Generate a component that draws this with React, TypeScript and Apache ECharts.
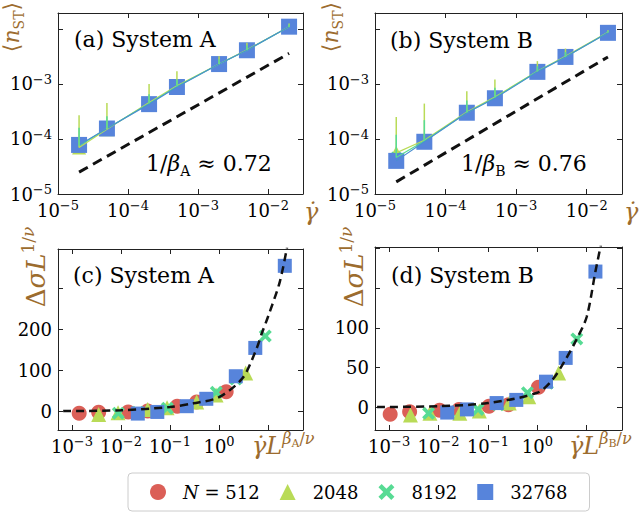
import React, { useEffect, useRef } from 'react';
import * as echarts from 'echarts';

// ---------- data ----------
const rateX = [2e-5, 5e-5, 2e-4, 5e-4, 2e-3, 5e-3, 2e-2];

// panel (a) System A
const aN2048 = [7.0e-5, 1.5e-4, 4.6e-4, 9.3e-4, 2.3e-3, 4.2e-3, 1.1e-2];
const aN8192 = [7.5e-5, 1.55e-4, 4.4e-4, 9.0e-4, 2.3e-3, 4.1e-3, 1.1e-2];
const aN32768 = [7.8e-5, 1.55e-4, 4.3e-4, 8.8e-4, 2.3e-3, 4.1e-3, 1.1e-2];
const aErrTop2048 = [2.7e-4, 4.5e-4, 1.0e-3, 1.7e-3, 3.2e-3, 5.6e-3, 1.25e-2];
const aErrTop8192 = [1.6e-4, 2.6e-4, 6.5e-4, 1.2e-3, 2.8e-3, 5.0e-3, 1.2e-2];
const aFitX = [2e-5, 2e-2];
const aFitY = [2.5e-5, 3.6e-3];

// panel (b) System B
const bN2048 = [5.6e-5, 9.5e-5, 3.1e-4, 5.8e-4, 1.7e-3, 3.2e-3, 8.7e-3];
const bN8192 = [4.6e-5, 9.2e-5, 3.0e-4, 5.6e-4, 1.7e-3, 3.1e-3, 8.6e-3];
const bN32768 = [4.0e-5, 8.9e-5, 3.0e-4, 5.5e-4, 1.66e-3, 3.1e-3, 8.5e-3];
const bErrTop2048 = [2.5e-4, 4.4e-4, 7.4e-4, 1.2e-3, 2.6e-3, 4.4e-3, 9.5e-3];
const bErrTop8192 = [1.2e-4, 2.2e-4, 5.0e-4, 8.5e-4, 2.1e-3, 3.8e-3, 9.2e-3];
const bFitX = [2e-5, 2e-2];
const bFitY = [1.66e-5, 3.1e-3];

// panel (c) System A collapse
const cX512 = [1.4e-3, 3.5e-3, 1.4e-2, 3.5e-2, 0.14, 0.35, 1.4];
const cY512 = [-5, -3, -2, 0, 12, 22, 47];
const cX2048 = [3.5e-3, 8.7e-3, 3.5e-2, 8.7e-2, 0.35, 0.87, 3.5];
const cY2048 = [-8, -4, 4, 8, 22, 39, 93];
const cX8192 = [8.8e-3, 2.2e-2, 8.8e-2, 0.22, 0.88, 2.2, 8.8];
const cY8192 = [-5, -3, 7, 12, 46, 78, 183];
const cX32768 = [2.2e-2, 5.5e-2, 0.22, 0.55, 2.2, 5.5, 22];
const cY32768 = [-6, -2, 12, 30, 85, 154, 354];
const cFitX = [6.6e-4, 0.01, 0.1, 0.3, 1, 3, 5.7, 7.5, 10, 17.4, 24.5];
const cFitY = [0, 2, 10, 19, 34, 80, 149, 190, 230, 315, 400];

// panel (d) System B collapse
const dX512 = [1.05e-3, 2.6e-3, 1.05e-2, 2.6e-2, 0.105, 0.26, 1.05];
const dY512 = [-9, -6, -4, -3, 1, 3, 25];
const dX2048 = [2.7e-3, 6.7e-3, 2.7e-2, 6.7e-2, 0.27, 0.67, 2.7];
const dY2048 = [-10, -8, -8, -5, 5, 13, 43];
const dX8192 = [6.3e-3, 1.6e-2, 6.3e-2, 0.16, 0.63, 1.6, 6.3];
const dY8192 = [-8, -6, -3, 3, 18, 30, 86];
const dX32768 = [1.5e-2, 3.75e-2, 0.15, 0.375, 1.5, 3.75, 15];
const dY32768 = [-7, -3, 5, 9, 32, 62, 171];
const dFitX = [5.7e-4, 0.01, 0.1, 1, 2, 3.5, 6.3, 10, 15, 19.4];
const dFitY = [0, 1, 5, 18, 34, 57, 86, 114, 171, 205];

const legendNames = ['N = 512', '2048', '8192', '32768'];

// ---------- styles ----------
const SERIF = '"DejaVu Serif", serif';
const BROWN = '#9c6c2e';
const COL = { n512: '#db5f57', n2048: '#b9db57', n8192: '#57db94', n32768: '#5784db' };
const XSYM = 'path://M0,4L4,0L10,6L16,0L20,4L14,10L20,16L16,20L10,14L4,20L0,16L6,10Z';
const AXC = '#222';

const logFmt = (hidden: number[]) => (v: number) => {
  const l = Math.log10(v);
  const e = Math.round(l);
  if (!isFinite(l) || Math.abs(l - e) > 1e-4 || hidden.includes(e)) return '';
  return '{b|10}{p|' + String(e).replace('-', '−') + '}';
};
const valFmt = (shown: number[]) => (v: number) =>
  shown.includes(Math.round(v * 1000) / 1000) ? '{b|' + String(v) + '}' : '';
const tickRich = {
  b: { fontFamily: SERIF, fontSize: 18, color: '#000', lineHeight: 22 },
  p: { fontFamily: SERIF, fontSize: 13, color: '#000', lineHeight: 14, verticalAlign: 'top' },
};

const zip = (xs: number[], ys: number[]) => xs.map((x, i) => [x, ys[i]]);
const zip3 = (xs: number[], a: number[], b: number[]) => xs.map((x, i) => [x, a[i], b[i]]);

function richFor(fs: number, fill: string) {
  const lh = Math.round(fs * 1.3);
  const sm = Math.round(fs * 0.65);
  return {
    r: { fontFamily: SERIF, fontSize: fs, fill, lineHeight: lh },
    i: { fontFamily: SERIF, fontSize: fs, fontStyle: 'italic', fill, lineHeight: lh },
    s: { fontFamily: SERIF, fontSize: sm, fill, lineHeight: Math.round(fs * 0.78), verticalAlign: 'bottom' },
    p: { fontFamily: SERIF, fontSize: sm, fill, lineHeight: Math.round(fs * 0.75), verticalAlign: 'top' },
    pi: { fontFamily: SERIF, fontSize: sm, fontStyle: 'italic', fill, lineHeight: Math.round(fs * 0.75), verticalAlign: 'top' },
    ps: { fontFamily: SERIF, fontSize: Math.round(fs * 0.45), fill, lineHeight: Math.round(fs * 0.75), verticalAlign: 'top', padding: [Math.round(fs * 0.3), 0, 0, 0] },
  };
}

export default function App() {
  const ref = useRef<HTMLDivElement>(null);
  useEffect(() => {
    if (!ref.current) return;
    const chart = echarts.init(ref.current, undefined, { renderer: 'svg' });

    const grids = [
      { left: 58, top: 13, width: 245, height: 181 },
      { left: 375, top: 13, width: 247, height: 181 },
      { left: 58, top: 249, width: 245, height: 181 },
      { left: 375, top: 247, width: 247, height: 183 },
    ];

    const xr = [
      [1e-5, Math.pow(10, -1.5)],
      [1e-5, Math.pow(10, -1.5)],
      [Math.pow(10, -3.286), Math.pow(10, 1.714)],
      [Math.pow(10, -3.286), Math.pow(10, 1.714)],
    ];
    const xHidden = [[-1], [-1], [1], [1]];
    const yr = [
      [1e-5, Math.pow(10, -1.71)],
      [1e-5, Math.pow(10, -1.71)],
      [-46, 395],
      [-29, 202],
    ];

    const tickStyle = { inside: true, length: 5, lineStyle: { color: AXC, width: 1 } };
    const lineStyle = { show: true, onZero: false, lineStyle: { color: AXC, width: 1 } };

    const xAxis: any[] = [];
    const yAxis: any[] = [];
    for (let pass = 0; pass < 2; pass++) {
      for (let g = 0; g < 4; g++) {
        xAxis.push({
          type: 'log',
          logBase: 10,
          gridIndex: g,
          min: xr[g][0],
          max: xr[g][1],
          position: pass === 0 ? 'bottom' : 'top',
          axisLine: lineStyle,
          axisTick: tickStyle,
          minorTick: { show: false },
          splitLine: { show: false },
          axisLabel: pass === 0 ? { margin: 5, formatter: logFmt(xHidden[g]), rich: tickRich } : { show: false },
        });
        const isLog = g < 2;
        yAxis.push({
          type: isLog ? 'log' : 'value',
          logBase: 10,
          gridIndex: g,
          min: yr[g][0],
          max: yr[g][1],
          position: pass === 0 ? 'left' : 'right',
          axisLine: lineStyle,
          axisTick: tickStyle,
          minorTick: { show: false },
          splitLine: { show: false },
          axisLabel:
            pass === 0
              ? {
                  margin: 6,
                  rich: tickRich,
                  formatter: isLog ? logFmt([-2]) : g === 2 ? valFmt([0, 100, 200]) : valFmt([0, 50, 100]),
                }
              : { show: false },
        });
      }
    }

    const scatter = (name: string, g: number, data: number[][], symbol: string, size: number, color: string, z: number) => ({
      type: 'scatter',
      name,
      xAxisIndex: g,
      yAxisIndex: g,
      data,
      symbol,
      symbolSize: size,
      itemStyle: { color, opacity: 1 },
      z,
      silent: true,
    });
    const thinLine = (g: number, data: number[][], color: string, z: number) => ({
      type: 'line',
      name: 'line' + g + color,
      xAxisIndex: g,
      yAxisIndex: g,
      data,
      symbol: 'none',
      lineStyle: { color, width: 1.2 },
      z,
      silent: true,
    });
    const dashed = (g: number, data: number[][], width: number, dash: number[], smooth: boolean) => ({
      type: 'line',
      name: 'fit' + g,
      xAxisIndex: g,
      yAxisIndex: g,
      data,
      symbol: 'none',
      smooth: smooth ? 0.3 : false,
      lineStyle: { color: '#111', width, type: dash },
      z: 10,
      silent: true,
    });
    const errSeries = (g: number, data: number[][], color: string, z: number) => ({
      type: 'custom',
      name: 'err' + g + color,
      xAxisIndex: g,
      yAxisIndex: g,
      z,
      silent: true,
      encode: { x: 0, y: [1, 2] },
      renderItem: (params: any, api: any) => {
        const p0 = api.coord([api.value(0), api.value(1)]);
        const p1 = api.coord([api.value(0), api.value(2)]);
        return {
          type: 'line',
          shape: { x1: p0[0], y1: p0[1], x2: p1[0], y2: p1[1] },
          style: { stroke: color, lineWidth: 1.5 },
        };
      },
      data,
    });

    const series: any[] = [
      // panel c
      scatter(legendNames[0], 2, zip(cX512, cY512), 'circle', 15, COL.n512, 2),
      scatter(legendNames[1], 2, zip(cX2048, cY2048), 'triangle', 15, COL.n2048, 3),
      scatter(legendNames[2], 2, zip(cX8192, cY8192), XSYM, 13, COL.n8192, 4),
      scatter(legendNames[3], 2, zip(cX32768, cY32768), 'rect', 14, COL.n32768, 5),
      dashed(2, zip(cFitX, cFitY), 2.5, [8, 5], true),
      // panel d
      scatter(legendNames[0], 3, zip(dX512, dY512), 'circle', 15, COL.n512, 2),
      scatter(legendNames[1], 3, zip(dX2048, dY2048), 'triangle', 15, COL.n2048, 3),
      scatter(legendNames[2], 3, zip(dX8192, dY8192), XSYM, 13, COL.n8192, 4),
      scatter(legendNames[3], 3, zip(dX32768, dY32768), 'rect', 14, COL.n32768, 5),
      dashed(3, zip(dFitX, dFitY), 2.5, [8, 5], true),
      // panel a
      scatter(legendNames[1], 0, zip(rateX, aN2048), 'triangle', 14, COL.n2048, 2),
      scatter(legendNames[2], 0, zip(rateX, aN8192), XSYM, 12, COL.n8192, 3),
      scatter(legendNames[3], 0, zip(rateX, aN32768), 'rect', 16, COL.n32768, 4),
      thinLine(0, zip(rateX, aN2048), COL.n2048, 6),
      thinLine(0, zip(rateX, aN8192), COL.n8192, 6),
      thinLine(0, zip(rateX, aN32768), '#4a8fd0', 7),
      errSeries(0, zip3(rateX, aN2048, aErrTop2048), COL.n2048, 8),
      errSeries(0, zip3(rateX, aN8192, aErrTop8192), COL.n8192, 9),
      dashed(0, zip(aFitX, aFitY), 3, [10, 6], false),
      // panel b
      scatter(legendNames[1], 1, zip(rateX, bN2048), 'triangle', 14, COL.n2048, 2),
      scatter(legendNames[2], 1, zip(rateX, bN8192), XSYM, 12, COL.n8192, 3),
      scatter(legendNames[3], 1, zip(rateX, bN32768), 'rect', 16, COL.n32768, 4),
      thinLine(1, zip(rateX, bN2048), COL.n2048, 6),
      thinLine(1, zip(rateX, bN8192), COL.n8192, 6),
      thinLine(1, zip(rateX, bN32768), '#4a8fd0', 7),
      errSeries(1, zip3(rateX, bN2048, bErrTop2048), COL.n2048, 8),
      errSeries(1, zip3(rateX, bN8192, bErrTop8192), COL.n8192, 9),
      dashed(1, zip(bFitX, bFitY), 3, [10, 6], false),
    ];

    const panelText = (x: number, y: number, text: string) => ({
      type: 'text',
      x,
      y,
      z: 100,
      style: { text, fontFamily: SERIF, fontSize: 22, fill: '#000', verticalAlign: 'middle', align: 'left' },
    });
    const richB = richFor(22, '#000');
    const rich22 = richFor(22, BROWN);
    const rich24 = richFor(24, BROWN);
    const rich26 = richFor(26, BROWN);
    const richTxt = (x: number, y: number, text: string, rich: any, rotation = 0, align = 'left') => ({
      type: 'text',
      x,
      y,
      rotation,
      z: 100,
      style: { text, rich, verticalAlign: 'middle', align },
    });

    const graphic: any[] = [
      panelText(74, 39, '(a) System A'),
      panelText(390, 40, '(b) System B'),
      panelText(73, 275, '(c) System A'),
      panelText(391, 275, '(d) System B'),
      richTxt(146, 163, '{r|1/}{i|β}{s|A}{r| ≈ 0.72}', richB),
      richTxt(461, 163, '{r|1/}{i|β}{s|B}{r| ≈ 0.76}', richB),
      richTxt(11, 27, '{r|⟨}{i|n}{s|ST}{r|⟩}', rich22, Math.PI / 2, 'center'),
      richTxt(330, 27, '{r|⟨}{i|n}{s|ST}{r|⟩}', rich22, Math.PI / 2, 'center'),
      richTxt(304, 212, '{i|γ̇}', rich24),
      richTxt(624, 212, '{i|γ̇}', rich24),
      richTxt(36, 267, '{r|Δ}{i|σL}{p|1/}{pi|ν}', rich26, Math.PI / 2, 'center'),
      richTxt(354, 267, '{r|Δ}{i|σL}{p|1/}{pi|ν}', rich26, Math.PI / 2, 'center'),
      richTxt(252, 446, '{i|γ̇L}{pi|β}{ps|A}{p|/}{pi|ν}', rich24),
      richTxt(569, 446, '{i|γ̇L}{pi|β}{ps|B}{p|/}{pi|ν}', rich24),
    ];

    chart.setOption({
      animation: false,
      backgroundColor: '#fff',
      grid: grids,
      xAxis,
      yAxis,
      series,
      graphic,
      legend: {
        data: legendNames,
        left: 128,
        top: 473,
        orient: 'horizontal',
        itemWidth: 16,
        itemHeight: 16,
        itemGap: 20,
        padding: [10, 22, 10, 22],
        borderColor: '#cccccc',
        borderWidth: 1,
        borderRadius: 4,
        selectedMode: false,
        formatter: (name: string) => (name === 'N = 512' ? '{i|N} = 512' : name),
        textStyle: {
          fontFamily: SERIF,
          fontSize: 18,
          color: '#000',
          padding: [0, 0, 0, 12],
          rich: { i: { fontFamily: SERIF, fontSize: 18, fontStyle: 'italic', color: '#000' } },
        },
      },
    });

    return () => chart.dispose();
  }, []);

  return (
    <div
      ref={ref}
      style={{ position: 'fixed', left: 0, top: 0, width: 642, height: 514, background: '#fff' }}
    />
  );
}
